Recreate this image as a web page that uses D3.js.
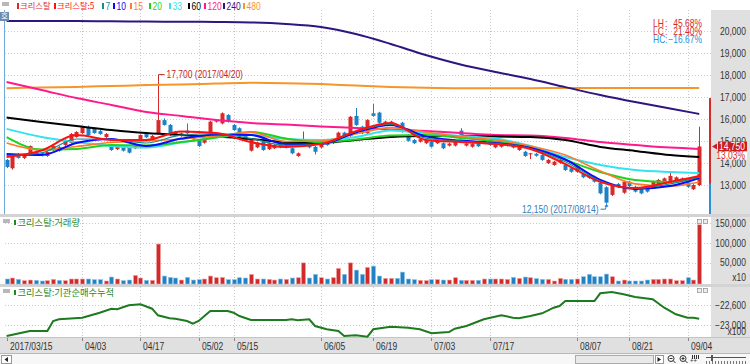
<!DOCTYPE html>
<html><head><meta charset="utf-8">
<script src="https://cdn.jsdelivr.net/npm/d3@7"></script>
<style>
html,body{margin:0;padding:0;background:#fff;overflow:hidden}
svg{display:block}
text{font-family:"Liberation Sans",Arial,sans-serif}
.kr{font-family:"Noto Sans CJK KR","Noto Sans",sans-serif}
</style></head><body>
<svg id="c" width="750" height="364"></svg>
<script>
// ---------------- DATA ----------------
const dates = ["03/15","03/16","03/17","03/20","03/21","03/22","03/23","03/24","03/27","03/28","03/29","03/30","03/31",
"04/03","04/04","04/05","04/06","04/07","04/10","04/11","04/12","04/13","04/14","04/17","04/18","04/19","04/20","04/21","04/24","04/25","04/26","04/27","04/28",
"05/02","05/04","05/08","05/10","05/11","05/12","05/15","05/16","05/17","05/18","05/19","05/22","05/23","05/24","05/25","05/26","05/29","05/30","05/31",
"06/01","06/02","06/05","06/07","06/08","06/09","06/12","06/13","06/14","06/15","06/16","06/19","06/20","06/21","06/22","06/23","06/26","06/27","06/28","06/29","06/30",
"07/03","07/04","07/05","07/06","07/07","07/10","07/11","07/12","07/13","07/14","07/17","07/18","07/19","07/20","07/21","07/24","07/25","07/26","07/27","07/28","07/31",
"08/01","08/02","08/03","08/04","08/07","08/08","08/09","08/10","08/11","08/14","08/16","08/17","08/18","08/21","08/22","08/23","08/24","08/25","08/28","08/29","08/30","08/31",
"09/01","09/04","09/05","09/06"];
const tickDates = ["03/15","04/03","04/17","05/02","05/15","06/05","06/19","07/03","07/17","08/07","08/21","09/04"];
const tickLabels = ["2017/03/15","04/03","04/17","05/02","05/15","06/05","06/19","07/03","07/17","08/07","08/21","09/04"];

const open = [14140,13760,14410,14230,14450,14500,14450,14320,14590,14730, 14820,14910,15180,15360,15640,15550,15450,15180,14820,14630, 14710,14680,14670,15045,15320,15120,15350,15950,15730,15420, 15230,15470,15270,15045,14920,15350,15880,15800,16180,15730, 15580,15230,14560,14710,14970,14630,14670,14920,14710,14670, 14320,14900,14900,14740,14710,14970,14900,15045,15380,15230, 16140,15650,15350,16260,16290,15730,15770,15730,15830,15270, 15045,14970,14900,14970,14900,14900,14790,14790,15470,14790, 14740,14880,14900,14970,14710,14740,14790,14860,14590,14510, 14420,14420,14360,13990,13910,14010,13910,13760,13600,13500, 13450,13380,13110,12900,12550,13050,12650,13150,12920,12800, 12900,12950,13000,13080,13150,13150,13230,13110,12810,13000];
const high = [14180,14400,14450,14400,14800,14560,14500,14530,14800,14770, 15080,15360,15450,15680,15700,15600,15500,15360,14860,14800, 14750,14720,14860,15300,15360,15270,17700,16030,15770,15460, 15390,15800,15310,15090,15160,15920,15990,16300,16220,15770, 15620,15270,15090,14960,15010,14940,14860,14960,14860,14710, 14480,15430,14940,14780,14900,15010,15090,15420,15420,16140, 16500,15690,15990,16680,16330,15920,15920,15770,15870,15310, 15090,15120,15090,15010,15050,14940,14920,15010,15580,14920, 14900,14920,15090,15010,14900,14940,14900,14900,14780,14550, 14460,14460,14400,14180,14100,14180,13950,13800,13900,13540, 13490,13420,13150,12940,13040,13090,13190,13190,12960,12840, 12940,13200,13270,13340,13600,13390,13340,13150,13040,15650];
const low = [13770,13700,14200,14180,14400,14330,14300,14280,14550,14520, 14780,14880,15150,15320,15230,15330,15280,15140,14550,14590, 14520,14430,14630,15000,15130,15080,15300,15700,15230,15280, 15190,15310,15040,14730,14880,15310,15840,15760,15840,15460, 15230,15000,14520,14670,14550,14590,14630,14670,14670,14400, 14280,14860,14670,14390,14670,14780,14860,15000,15080,15190, 15690,15310,15310,16100,15790,15690,15730,15540,15380,14970, 14860,14930,14860,14700,14860,14630,14750,14750,15160,14750, 14700,14720,14860,14780,14670,14700,14750,14660,14550,14280, 14180,14290,14100,13950,13870,13970,13640,13560,13560,13310, 13280,13110,12580,12150,12500,12860,12600,12910,12660,12580, 12660,12910,12960,13040,13110,13110,13190,12880,12770,12950];
const close = [13820,14330,14230,14360,14770,14360,14360,14500,14770,14550, 15045,15320,15410,15640,15270,15360,15320,15320,14590,14770, 14560,14470,14820,15270,15170,15230,15950,15730,15270,15320, 15350,15350,15080,14770,15120,15880,15950,16260,15880,15500, 15270,15045,15045,14920,14590,14900,14820,14710,14820,14440, 14440,15080,14710,14510,14860,14820,15045,15380,15120,16100, 15730,15350,15950,16140,15830,15880,15880,15580,15420,15010, 14900,15080,15045,14740,15010,14670,14880,14970,15200,14880, 14860,14760,15045,14820,14860,14900,14860,14700,14740,14320, 14440,14330,14140,14140,14060,14140,13680,13600,13860,13350, 13320,13150,12620,12200,13000,12900,13150,12950,12700,12620, 12700,13150,13230,13300,13410,13350,13300,12920,13000,14750];
const volume = [10100,12600,9200,5900,7500,6700,5000,5900,9200,6700, 5900,10100,10100,10100,10100,8400,8400,5000,15100,10100, 5900,7500,19300,12600,6700,6700,98700,17600,14200,12600, 7500,14200,7500,8400,10100,17600,13400,14200,8400,8400, 13400,12600,21800,10100,10100,9200,7500,10100,9200,12600, 13400,51000,12600,21800,13400,10100,13400,36900,21800,51000, 32700,21800,39400,42700,17600,11700,11700,11700,27600,10100, 8400,6700,5900,8400,8400,7500,7500,13400,6700,6700, 6700,6700,10100,10100,10100,10100,9200,14200,11700,15100, 13400,10900,9200,9200,5000,11700,9200,9200,10100,15900, 21800,15900,15900,22600,15900,5000,7500,5000,5000,5000, 7500,9200,9200,10100,10100,5900,5900,13400,7500,147500];

// moving averages read at sample days
const maIdx = [0,6,12,18,24,30,36,42,48,54,60,66,72,78,84,90,96,102,108,114,119];
const ma5   = [14270,14570,15270,15050,15050,15430,15360,14950,14730,14860,15450,15820,15050,14950,14860,14640,13950,13140,12860,13140,13410];
const ma7   = [14340,14460,15090,15070,14910,15270,15330,15110,14800,14860,15420,15770,15130,14990,14890,14660,14060,13180,12840,13050,13360];
const ma10  = [14410,14360,14910,15090,14770,15110,15300,15270,14860,14860,15390,15730,15210,15020,14910,14680,14160,13230,12820,12950,13320];
const ma15  = [14910,14590,14750,14930,15000,15090,15230,15390,14980,15000,15320,15610,15410,15200,15050,14770,14360,13640,13050,12950,13140];
const ma20  = [15180,14610,14640,14820,14800,14950,15160,15410,15110,14950,15070,15250,15270,15140,14980,14710,14140,13590,13230,13140,13360];
const ma33  = [15550,15180,14950,14770,14700,14930,15160,15270,15090,15050,15180,15480,15360,15230,15110,14770,14270,13910,13680,13590,13550];
const ma60  = [16070,15860,15680,15500,15360,15270,15200,15090,14950,14930,15050,15180,15230,15230,15200,15180,15050,14730,14550,14360,14270];
const ma120 = [17680,17320,16950,16640,16320,16140,15950,15820,15750,15660,15590,15520,15450,15360,15270,15250,15140,14950,14820,14700,14640];
const ma240 = [20460,20450,20450,20440,20430,20420,20410,20390,20320,20180,19860,19410,18910,18480,18140,17820,17450,17090,16770,16480,16230];
const ma480 = [17400,17430,17460,17500,17540,17570,17610,17650,17630,17590,17520,17460,17420,17400,17400,17400,17410,17410,17410,17410,17410];

// institutional cumulative net buying (x100), read at sample days
const instIdx = [0,4,7,8,9,13,16,18,19,21,23,25,26,28,29,31,32,33,35,38,39,40,42,45,48,49,50,52,53,55,57,58,60,62,63,66,69,71,73,76,77,79,82,85,87,88,90,92,94,95,96,101,102,104,106,108,111,113,115,117,118,119];
const instVal = [-23220,-23120,-23120,-22920,-22886,-22854,-22754,-22674,-22686,-22606,-22586,-22674,-22806,-22866,-22874,-22920,-22974,-22920,-22720,-22720,-22754,-22820,-22900,-22900,-22900,-22886,-22906,-22886,-23020,-23086,-23120,-23220,-23206,-23234,-23086,-23034,-23054,-23086,-23166,-23140,-23074,-23020,-22886,-22806,-22854,-22866,-22820,-22766,-22654,-22620,-22520,-22520,-22366,-22340,-22386,-22440,-22486,-22654,-22786,-22854,-22854,-22874];

const priceTicks = [13000,14000,15000,16000,17000,18000,19000,20000];
const volTicks = [50000,100000,150000];
const instTicks = [-23000,-22600];
const prevClose = 13050;
const upperLimit = 16950;
const legendNames = ["크리스탈","크리스탈:5","7","10","15","20","33","60","120","240","480"];

// ---------------- LAYOUT ----------------
const RED="#d92a2a", BLUE="#1c82c8";
const C = {m5:"#ff1010",m7:"#118f8f",m10:"#0a0aff",m15:"#ff7a2e",m20:"#1ed21e",m33:"#33e3ef",m60:"#000000",m120:"#ff1a8c",m240:"#2e1680",m480:"#f5962a"};
const legendColors = [RED,C.m5,C.m7,C.m10,C.m15,C.m20,C.m33,C.m60,C.m120,C.m240,C.m480];
const legendX = [17,54,102,113,130,149,169,188,204,223,243];
const PL=5, PR=711, mainTop=10, mainBot=214, volTop=217, volBot=284, instTop=287, instBot=337, axBot=353;

const svg = d3.select("#c");
const x = d3.scalePoint().domain(dates).range([6.6, 699.2]);
const yP = d3.scaleLinear().domain([13000,20000]).range([185,31]);
const yV = d3.scaleLinear().domain([0,150000]).range([282.5,223.3]);
const yI = d3.scaleLinear().domain([-23000,-22600]).range([325,305]);
const fmt = d3.format(",");
const SX = 0.85;
function ntext(g, xx, yy, str, col, anchor, size){
  return g.append("text").attr("transform",`translate(${xx},${yy}) scale(${SX},1)`)
    .attr("dy","0.35em").attr("font-size",size||9.5).attr("fill",col||"#333")
    .attr("text-anchor",anchor||"start").text(str);
}

svg.append("rect").attr("width",750).attr("height",364).attr("fill","#fff");
svg.append("rect").attr("x",PR).attr("y",mainTop).attr("width",750-PR).attr("height",instBot-mainTop).attr("fill","#e0e0e0");
[[mainBot,3],[volBot,3]].forEach(([yy,h])=>svg.append("rect").attr("x",0).attr("y",yy).attr("width",750).attr("height",h).attr("fill","#d3d3d3"));
svg.append("rect").attr("x",0).attr("y",instBot).attr("width",750).attr("height",axBot-instBot).attr("fill","#e0e0e0");
svg.append("line").attr("x1",0).attr("x2",750).attr("y1",instBot+0.5).attr("y2",instBot+0.5).attr("stroke","#c4c4c4");

const grid = svg.append("g").attr("stroke","#c9c9c9").attr("stroke-dasharray","1,2").attr("stroke-width",1);
priceTicks.forEach(p=>grid.append("line").attr("x1",PL).attr("x2",PR).attr("y1",Math.round(yP(p))+0.5).attr("y2",Math.round(yP(p))+0.5));
volTicks.forEach(v=>grid.append("line").attr("x1",PL).attr("x2",PR).attr("y1",Math.round(yV(v))+0.5).attr("y2",Math.round(yV(v))+0.5));
instTicks.forEach(v=>grid.append("line").attr("x1",PL).attr("x2",PR).attr("y1",Math.round(yI(v))+0.5).attr("y2",Math.round(yI(v))+0.5));
tickDates.slice(1).forEach(d=>{
  const xx=Math.round(x(d))+0.5;
  [[mainTop,mainBot],[volTop,volBot],[instTop,instBot]].forEach(([a,b])=>grid.append("line").attr("x1",xx).attr("x2",xx).attr("y1",a).attr("y2",b));
});

svg.append("clipPath").attr("id","clipM").append("rect").attr("x",PL).attr("y",mainTop).attr("width",PR-PL).attr("height",mainBot-mainTop);
const gM = svg.append("g").attr("clip-path","url(#clipM)");

// candles
const idx = d3.range(dates.length);
const cg = gM.append("g");
idx.forEach(i=>{
  const up = close[i]>=open[i], col = up?RED:BLUE, xx = Math.round(x(dates[i]));
  cg.append("line").attr("x1",xx+0.5).attr("x2",xx+0.5).attr("y1",yP(high[i])).attr("y2",yP(low[i])).attr("stroke",col);
  const t=yP(Math.max(open[i],close[i])), b=yP(Math.min(open[i],close[i]));
  cg.append("rect").attr("x",xx-1.5).attr("y",t).attr("width",4).attr("height",Math.max(1,b-t)).attr("fill",col);
});

// moving averages
const maDefs = [[ma480,C.m480,2],[ma240,C.m240,2],[ma120,C.m120,2],[ma60,C.m60,2],[ma33,C.m33,2],[ma20,C.m20,2],[ma15,C.m15,1.6],[ma10,C.m10,2],[ma7,C.m7,1.2],[ma5,C.m5,2]];
const maLine = d3.line().x(d=>x(dates[d[0]])).y(d=>yP(d[1])).curve(d3.curveMonotoneX);
maDefs.forEach(([vals,col,w])=>{
  gM.append("path").datum(maIdx.map((k,j)=>[k,vals[j]])).attr("d",maLine).attr("fill","none").attr("stroke",col).attr("stroke-width",w);
});

// high / low annotations
const hiI = d3.maxIndex(high), loI = d3.minIndex(low);
const hx = Math.round(x(dates[hiI]))+0.5, hy = yP(high[hiI]);
svg.append("path").attr("d",`M${hx},${hy}V${hy-7}H${hx+6}`).attr("fill","none").attr("stroke","#c0282a");
ntext(svg, hx+8, hy-7, `${fmt(high[hiI])} (2017/${dates[hiI]})`, "#c0282a", "start", 10);
const lx = Math.round(x(dates[loI]))+0.5, ly = yP(low[loI]);
svg.append("path").attr("d",`M${lx-6},${ly+5.5}H${lx-1}L${lx},${ly+1}`).attr("fill","none").attr("stroke","#2f7fc1");
svg.append("path").attr("d",`M${lx-2},${ly+3}L${lx},${ly}L${lx+2},${ly+3}Z`).attr("fill","#2f7fc1");
ntext(svg, lx-8, ly+5.5, `${fmt(low[loI])} (2017/${dates[loI]})`, "#2f7fc1", "end", 10);

// LH / LC / HC
const last = close[close.length-1];
const pf = d3.format(".2f");
[["LH",(high[hiI]/low[loI]-1)*100,"#d42a2a",23],["LC",(last/low[loI]-1)*100,"#d42a2a",31],["HC",(last/high[hiI]-1)*100,"#2d8fd5",39]].forEach(([k,v,col,yy])=>{
  ntext(svg, 653, yy, k, col, "start", 10);
  ntext(svg, 665, yy, ":", col, "start", 10);
  ntext(svg, 702, yy, pf(v)+"%", col, "end", 10);
});

// price limit bar & left edge line
svg.append("rect").attr("x",709).attr("y",yP(upperLimit)).attr("width",2).attr("height",yP(prevClose)-yP(upperLimit)).attr("fill","#d42a2a");
svg.append("rect").attr("x",709).attr("y",yP(prevClose)).attr("width",2).attr("height",mainBot-yP(prevClose)).attr("fill","#2d8fd5");
svg.append("line").attr("x1",4.5).attr("x2",4.5).attr("y1",mainTop).attr("y2",mainBot).attr("stroke","#6fa8dc");

// right axis labels
const axT = svg.append("g");
priceTicks.forEach(p=>ntext(axT, 746, yP(p), fmt(p), "#333", "end", 10));
volTicks.forEach(v=>ntext(axT, 746, yV(v), fmt(v), "#333", "end", 10));
ntext(axT, 746, 277.5, "x10", "#333", "end", 10);
instTicks.forEach(v=>ntext(axT, 746, yI(v), fmt(v), "#333", "end", 10));
ntext(axT, 746, 331, "x100", "#333", "end", 10);

// current price marker
const cy = yP(last);
svg.append("path").attr("d",`M712,${cy}L717,${cy-3}V${cy+3}Z`).attr("fill","#c81e1e");
svg.append("rect").attr("x",718).attr("y",cy-5).attr("width",29).attr("height",10).attr("fill","#c81e1e");
ntext(svg, 745, cy, fmt(last), "#fff", "end", 10);
svg.append("rect").attr("x",718).attr("y",cy+5).attr("width",29).attr("height",8).attr("fill","#fff");
ntext(svg, 745, cy+9, pf((last/prevClose-1)*100)+"%", "#d42a2a", "end", 10);

// volume bars
idx.forEach(i=>{
  const up = close[i]>=open[i], xx=Math.round(x(dates[i]));
  svg.append("rect").attr("x",xx-1.5).attr("y",yV(volume[i])+0.5).attr("width",4).attr("height",volBot-yV(volume[i])-0.5)
    .attr("fill",up?"#d12a2a":"#1f82c4").attr("stroke",up?"#f0a0a0":"#8cc2e6").attr("stroke-width",0.6);
});

// institutional line
const iLine = d3.line().x((d,j)=>x(dates[instIdx[j]])).y(d=>yI(d));
svg.append("path").datum(instVal).attr("d",iLine).attr("fill","none").attr("stroke","#1e7a1e").attr("stroke-width",2);

// x axis labels
const xa = svg.append("g");
tickDates.forEach((d,k)=>{
  const xx=Math.round(x(d))+0.5;
  xa.append("line").attr("x1",xx).attr("x2",xx).attr("y1",instBot+1).attr("y2",instBot+4).attr("stroke","#888");
  ntext(xa, xx+2.5, 346, tickLabels[k], "#333", "start", 10);
});

// panel titles
function icon(xx,yy){svg.append("rect").attr("x",xx).attr("y",yy).attr("width",7).attr("height",4).attr("fill","#b8b8b8");}
icon(2,2); icon(3,219); icon(3,289);
svg.append("rect").attr("x",14).attr("y",220).attr("width",2).attr("height",5).attr("fill","#1e8a1e");
svg.append("text").attr("class","kr").attr("x",17.5).attr("y",222.5).attr("dy","0.35em").attr("font-size",9.3).attr("fill","#2a8a2a").text("크리스탈:거래량");
svg.append("rect").attr("x",14).attr("y",290).attr("width",2).attr("height",5).attr("fill","#1e8a1e");
svg.append("text").attr("class","kr").attr("x",17.5).attr("y",292.5).attr("dy","0.35em").attr("font-size",9.3).attr("fill","#2a8a2a").text("크리스탈:기관순매수누적");

[[219],[288]].forEach(([yy])=>{[697,703].forEach(xx=>svg.append("rect").attr("x",xx+0.5).attr("y",yy+0.5).attr("width",4).attr("height",4).attr("fill","#eee").attr("stroke","#999").attr("stroke-width",0.8));});

// "호" icon
svg.append("rect").attr("x",0).attr("y",12).attr("width",9).attr("height",9).attr("fill","#6b8db3");
svg.append("text").attr("class","kr").attr("x",4.5).attr("y",16.5).attr("dy","0.35em").attr("text-anchor","middle").attr("font-size",7.5).attr("fill","#fff").text("호");

// legend
legendNames.forEach((t,k)=>{
  const col = legendColors[k], lx0 = legendX[k];
  svg.append("rect").attr("x",lx0).attr("y",3).attr("width",2).attr("height",6).attr("fill",col);
  if (/^[0-9]+$/.test(t)) ntext(svg, lx0+3.5, 6, t, col, "start", 10);
  else svg.append("text").attr("class","kr").attr("x",lx0+3).attr("y",6).attr("dy","0.35em").attr("font-size",8.3).attr("fill",col).text(t);
});

// scrollbar
svg.append("rect").attr("x",0).attr("y",axBot).attr("width",750).attr("height",364-axBot).attr("fill","#f7f7f7");
svg.append("line").attr("x1",0).attr("x2",750).attr("y1",axBot+0.5).attr("y2",axBot+0.5).attr("stroke","#b9b9b9");
svg.append("rect").attr("x",1.5).attr("y",355.5).attr("width",10).attr("height",8).attr("fill","#fff").attr("stroke","#999");
svg.append("path").attr("d","M4.5,359.5L8,357V362Z").attr("fill","#222");
svg.append("rect").attr("x",575.5).attr("y",355.5).attr("width",78).attr("height",8).attr("fill","#e9e9e9").attr("stroke","#aaa");
svg.append("rect").attr("x",655.5).attr("y",355.5).attr("width",8).attr("height",8).attr("fill","#fff").attr("stroke","#999");
svg.append("path").attr("d","M661,359.5L657.5,357V362Z").attr("fill","#222");
[671,683].forEach((xx,k)=>{
  svg.append("circle").attr("cx",xx).attr("cy",358.5).attr("r",3).attr("fill","none").attr("stroke","#333");
  svg.append("line").attr("x1",xx+2).attr("x2",xx+4.5).attr("y1",360.5).attr("y2",363).attr("stroke","#333");
  svg.append("line").attr("x1",xx-1.5).attr("x2",xx+1.5).attr("y1",358.5).attr("y2",358.5).attr("stroke","#333");
  if(k===1) svg.append("line").attr("x1",xx).attr("x2",xx).attr("y1",357).attr("y2",360).attr("stroke","#333");
});
[692,694,696,698].forEach(xx=>svg.append("line").attr("x1",xx+0.5).attr("x2",xx+0.5).attr("y1",355).attr("y2",359).attr("stroke","#333"));
ntext(svg, 690, 361, "++", "#333", "start", 7);
svg.append("line").attr("x1",706).attr("x2",746).attr("y1",357.5).attr("y2",357.5).attr("stroke","#555");
svg.append("rect").attr("x",711).attr("y",355).attr("width",2).attr("height",6).attr("fill","#555");
d3.range(706,747,3).forEach(xx=>svg.append("line").attr("x1",xx+0.5).attr("x2",xx+0.5).attr("y1",361).attr("y2",364).attr("stroke","#777"));
</script>
</body></html>
